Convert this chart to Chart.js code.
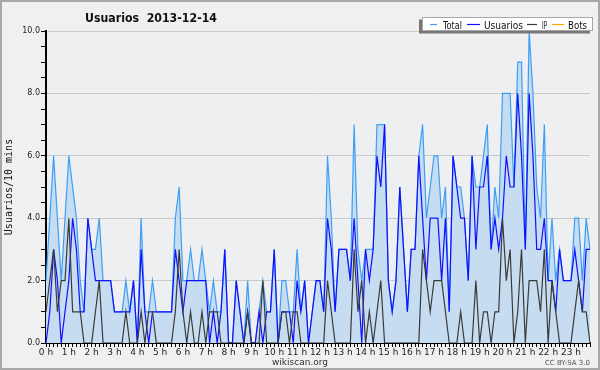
<!DOCTYPE html>
<html lang="es">
<head>
    <meta charset="UTF-8">
    <title>Usuarios 2013-12-14</title>
    <style>
        html, body {
            margin: 0;
            padding: 0;
            background: #f0f0f0;
        }
        #wrap {
            width: 600px;
            height: 370px;
        }
    </style>
</head>
<body>
    <div id="wrap"><canvas id="chart" width="600" height="370"></canvas></div>

    <script src="https://cdn.jsdelivr.net/npm/chart.js"></script>
    <script>
        // one value every 10 minutes, 00:00 -> 23:50
        const usuarios = [
            0, 1, 3, 2, 0, 1, 2, 4, 3, 1, 1, 4, 3, 2, 2, 2, 2, 2, 1, 1, 1, 1, 1, 2,
            0, 3, 1, 0, 1, 1, 1, 1, 1, 1, 3, 2, 1, 2, 2, 2, 2, 2, 2, 0, 1, 0, 1, 3,
            0, 0, 2, 1, 0, 1, 0, 0, 1, 0, 1, 1, 3, 0, 1, 1, 1, 0, 2, 1, 2, 0, 1, 2,
            2, 1, 4, 3, 1, 3, 3, 3, 2, 4, 2, 0, 3, 2, 3, 6, 5, 7, 2, 1, 2, 5, 3, 1,
            3, 3, 6, 4, 2, 4, 4, 4, 2, 4, 1, 6, 5, 4, 4, 2, 6, 3, 5, 5, 6, 3, 4, 3,
            4, 6, 5, 5, 8, 6, 3, 8, 6, 3, 3, 4, 2, 2, 1, 3, 2, 2, 2, 3, 2, 1, 3, 3
        ];
        const ip = [
            1, 2, 3, 1, 2, 2, 4, 1, 1, 1, 0, 0, 0, 1, 2, 0, 0, 0, 0, 0, 0, 1, 0, 0,
            0, 1, 0, 1, 1, 0, 0, 0, 0, 0, 1, 3, 1, 0, 1, 0, 0, 1, 0, 1, 1, 1, 0, 0,
            0, 0, 0, 0, 0, 1, 0, 0, 0, 2, 0, 0, 0, 0, 1, 1, 0, 1, 1, 0, 0, 0, 0, 0,
            0, 0, 2, 1, 0, 0, 0, 0, 0, 3, 1, 2, 0, 1, 0, 1, 2, 0, 0, 0, 0, 0, 0, 0,
            0, 0, 0, 3, 2, 1, 2, 2, 2, 1, 0, 0, 0, 1, 0, 0, 0, 2, 0, 1, 1, 0, 1, 1,
            4, 2, 3, 0, 1, 3, 0, 2, 2, 2, 1, 3, 0, 2, 1, 0, 0, 0, 0, 1, 2, 1, 1, 0
        ];
        const total = [
            2, 4, 6, 4, 2, 4, 6, 5, 4, 2, 1, 4, 3, 3, 4, 2, 2, 2, 1, 1, 1, 2, 1, 2,
            0, 4, 1, 1, 2, 1, 1, 1, 1, 1, 4, 5, 2, 2, 3, 2, 2, 3, 2, 1, 2, 1, 1, 3,
            0, 0, 2, 1, 0, 2, 0, 0, 1, 2, 1, 1, 3, 0, 2, 2, 1, 1, 3, 1, 2, 0, 1, 2,
            2, 1, 6, 4, 1, 3, 3, 3, 2, 7, 3, 2, 3, 3, 3, 7, 7, 7, 2, 1, 2, 5, 3, 1,
            3, 3, 6, 7, 4, 5, 6, 6, 4, 5, 1, 6, 5, 5, 4, 2, 6, 5, 5, 6, 7, 3, 5, 4,
            8, 8, 8, 5, 9, 9, 3, 10, 8, 5, 4, 7, 2, 4, 2, 3, 2, 2, 2, 4, 4, 2, 4, 3
        ];
        const bots = []; // no bot edits that day

        const hourLabels = [
            '0 h', '1 h', '2 h', '3 h', '4 h', '5 h', '6 h', '7 h', '8 h', '9 h', '10 h', '11 h',
            '12 h', '13 h', '14 h', '15 h', '16 h', '17 h', '18 h', '19 h', '20 h', '21 h', '22 h', '23 h'
        ];
        const yTicks = [0, 2, 4, 6, 8, 10];

        const slots = total.map((v, i) => {
            const h = Math.floor(i / 6), m = (i % 6) * 10;
            return h + ':' + String(m).padStart(2, '0');
        });

        const FONT = "'DejaVu Sans', sans-serif";

        // legend layout: sample line start/end, text x and text width
        const legendItems = [
            { x0: 430, x1: 437, tx: 443, tw: 19 },
            { x0: 467, x1: 480, tx: 484, tw: 39 },
            { x0: 527, x1: 537, tx: 542, tw: 5 },
            { x0: 552, x1: 564, tx: 568, tw: 19 }
        ];

        const decor = {
            id: 'decor',
            beforeDraw(chart) {
                const { ctx, chartArea: a } = chart;
                ctx.save();
                ctx.fillStyle = '#f0f0f0';
                ctx.fillRect(0, 0, chart.width, chart.height);
                ctx.fillStyle = '#eeeff1';
                ctx.fillRect(a.left, a.top, a.right - a.left, a.bottom - a.top);
                ctx.restore();
            },
            afterDraw(chart) {
                const ctx = chart.ctx;
                ctx.save();

                // title
                ctx.fillStyle = '#111';
                ctx.font = "bold 13px " + FONT;
                ctx.textAlign = 'center';
                ctx.textBaseline = 'alphabetic';
                ctx.fillText('Usuarios  2013-12-14', 151, 22, 132);

                // legend box with shadow
                const lx = 422, ly = 17, lw = 171, lh = 14;
                ctx.fillStyle = '#777';
                ctx.fillRect(lx - 3, ly + 2.5, lw, lh);
                ctx.fillStyle = '#ffffff';
                ctx.fillRect(lx, ly, lw, lh);
                ctx.strokeStyle = '#a8a8a8';
                ctx.lineWidth = 1;
                ctx.strokeRect(lx + 0.5, ly + 0.5, lw - 1, lh - 1);

                ctx.font = "11px " + FONT;
                ctx.textAlign = 'left';
                ctx.textBaseline = 'alphabetic';
                chart.data.datasets.forEach((ds, i) => {
                    const it = legendItems[i];
                    ctx.strokeStyle = ds.borderColor;
                    ctx.lineWidth = 1.2;
                    ctx.beginPath();
                    ctx.moveTo(it.x0, ly + 7.5);
                    ctx.lineTo(it.x1, ly + 7.5);
                    ctx.stroke();
                    ctx.fillStyle = '#111';
                    ctx.fillText(ds.label, it.tx, ly + 11.5, it.tw);
                });

                // footer
                ctx.font = "9px " + FONT;
                ctx.fillStyle = '#333';
                ctx.textAlign = 'center';
                ctx.fillText('wikiscan.org', 300, 365);
                ctx.font = "7px " + FONT;
                ctx.fillStyle = '#555';
                ctx.textAlign = 'right';
                ctx.fillText('CC BY-SA 3.0', 590, 365);

                // frame
                ctx.strokeStyle = '#a8a8a8';
                ctx.lineWidth = 2;
                ctx.strokeRect(1, 1, chart.width - 2, chart.height - 2);
                ctx.restore();
            }
        };

        const ctx = document.getElementById('chart').getContext('2d');
        new Chart(ctx, {
            type: 'line',
            data: {
                labels: slots,
                datasets: [
                    {
                        label: 'Total',
                        data: total,
                        borderColor: '#3d9ef5',
                        backgroundColor: '#c6dcf0',
                        fill: 'origin',
                        order: 3
                    },
                    {
                        label: 'Usuarios',
                        data: usuarios,
                        borderColor: '#1010ff',
                        fill: false,
                        order: 2
                    },
                    {
                        label: 'IP',
                        data: ip,
                        borderColor: '#3a3a3a',
                        fill: false,
                        order: 1
                    },
                    {
                        label: 'Bots',
                        data: bots,
                        borderColor: '#ffa500',
                        fill: false,
                        order: 0
                    }
                ]
            },
            options: {
                responsive: false,
                animation: false,
                layout: {
                    padding: { top: 31, right: 10, left: 0, bottom: 0 }
                },
                elements: {
                    point: { radius: 0 },
                    line: { tension: 0, borderWidth: 1.2 }
                },
                plugins: {
                    legend: { display: false },
                    title: { display: false },
                    tooltip: { enabled: false }
                },
                scales: {
                    x: {
                        type: 'category',
                        grid: {
                            drawOnChartArea: false,
                            tickLength: 4,
                            tickColor: '#000',
                            color: '#000'
                        },
                        border: { color: '#000', width: 2 },
                        ticks: {
                            autoSkip: false,
                            maxRotation: 0,
                            minRotation: 0,
                            padding: 0,
                            color: '#222',
                            font: { family: FONT, size: 9 },
                            callback: (v, i) => i % 6 === 0 ? hourLabels[i / 6] : ''
                        },
                        afterFit: s => { s.height = 27; }
                    },
                    y: {
                        min: 0,
                        max: 10,
                        grid: {
                            color: c => c.tick && yTicks.includes(c.tick.value) ? '#c9c9c9' : 'rgba(0,0,0,0)',
                            tickColor: '#000',
                            tickLength: 5
                        },
                        border: { color: '#000', width: 2 },
                        ticks: {
                            stepSize: 0.5,
                            autoSkip: false,
                            padding: 1,
                            color: '#222',
                            font: { family: FONT, size: 8 },
                            callback: v => yTicks.includes(v) ? v.toFixed(1) : ''
                        },
                        title: {
                            display: true,
                            text: 'Usuarios/10 mins',
                            color: '#111',
                            font: { family: "'DejaVu Sans Mono', monospace", size: 10 },
                            padding: { top: 3, bottom: 0 }
                        },
                        afterFit: s => { s.width = 46; }
                    }
                }
            },
            plugins: [decor]
        });
    </script>
</body>
</html>
